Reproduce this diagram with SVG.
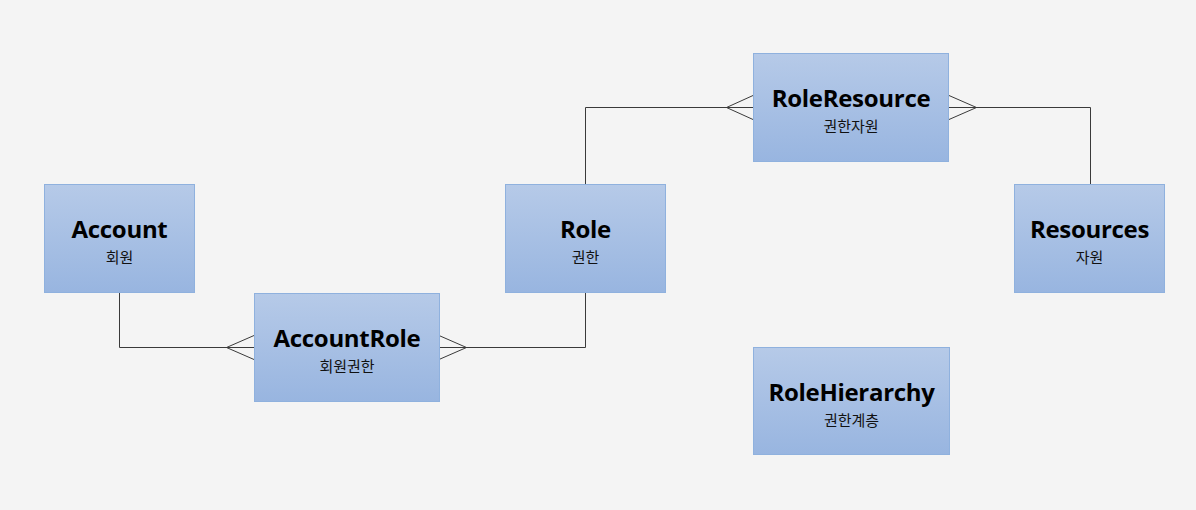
<svg xmlns="http://www.w3.org/2000/svg" width="1196" height="510" viewBox="0 0 1196 510">
<defs>
<linearGradient id="g" x1="0" y1="0" x2="0" y2="1">
<stop offset="0" stop-color="#b6cae8"/>
<stop offset="1" stop-color="#98b5e0"/>
</linearGradient>
<style>
.box{fill:url(#g);stroke:#8fb1de;stroke-width:1}
.t{font-family:"Open Sans","Noto Sans CJK KR",sans-serif;font-weight:bold;font-size:24px;letter-spacing:-0.3px;fill:#000;text-anchor:middle}
.s{font-family:"Noto Sans CJK KR","Noto Sans",sans-serif;font-size:15px;fill:#111;text-anchor:middle}
.c{fill:none;stroke:#3a3a3a;stroke-width:1}
</style>
</defs>
<rect width="1196" height="510" fill="#f4f4f4"/>
<g id="connectors">
<path class="c" d="M119.5 293 V347.5 H254"/>
<path class="c" d="M254 335.5 L226.5 347.5 L254 359.5"/>
<path class="c" d="M439 347.5 H585.5 V293"/>
<path class="c" d="M439 335.5 L466.5 347.5 L439 359.5"/>
<path class="c" d="M585.5 184 V107.5 H753"/>
<path class="c" d="M753 95.5 L726.5 107.5 L753 119.5"/>
<path class="c" d="M949 107.5 H1090.5 V184"/>
<path class="c" d="M949 95.5 L976.5 107.5 L949 119.5"/>
</g>
<g id="Account">
<rect class="box" x="44.5" y="184.5" width="150" height="108"/>
<text class="t" x="119.5" y="238">Account</text>
<text class="s" x="119.5" y="263">회원</text>
</g>
<g id="AccountRole">
<rect class="box" x="254.5" y="293.5" width="185" height="108"/>
<text class="t" x="347" y="347">AccountRole</text>
<text class="s" x="347" y="372">회원권한</text>
</g>
<g id="Role">
<rect class="box" x="505.5" y="184.5" width="160" height="108"/>
<text class="t" x="585.5" y="238">Role</text>
<text class="s" x="585.5" y="263">권한</text>
</g>
<g id="RoleResource">
<rect class="box" x="753.5" y="53.5" width="195" height="108"/>
<text class="t" x="851" y="107">RoleResource</text>
<text class="s" x="851" y="132">권한자원</text>
</g>
<g id="Resources">
<rect class="box" x="1014.5" y="184.5" width="150" height="108"/>
<text class="t" x="1089.5" y="238">Resources</text>
<text class="s" x="1089.5" y="263">자원</text>
</g>
<g id="RoleHierarchy">
<rect class="box" x="753.5" y="347.5" width="196" height="107"/>
<text class="t" x="851.5" y="401">RoleHierarchy</text>
<text class="s" x="851.5" y="426">권한계층</text>
</g>
</svg>
